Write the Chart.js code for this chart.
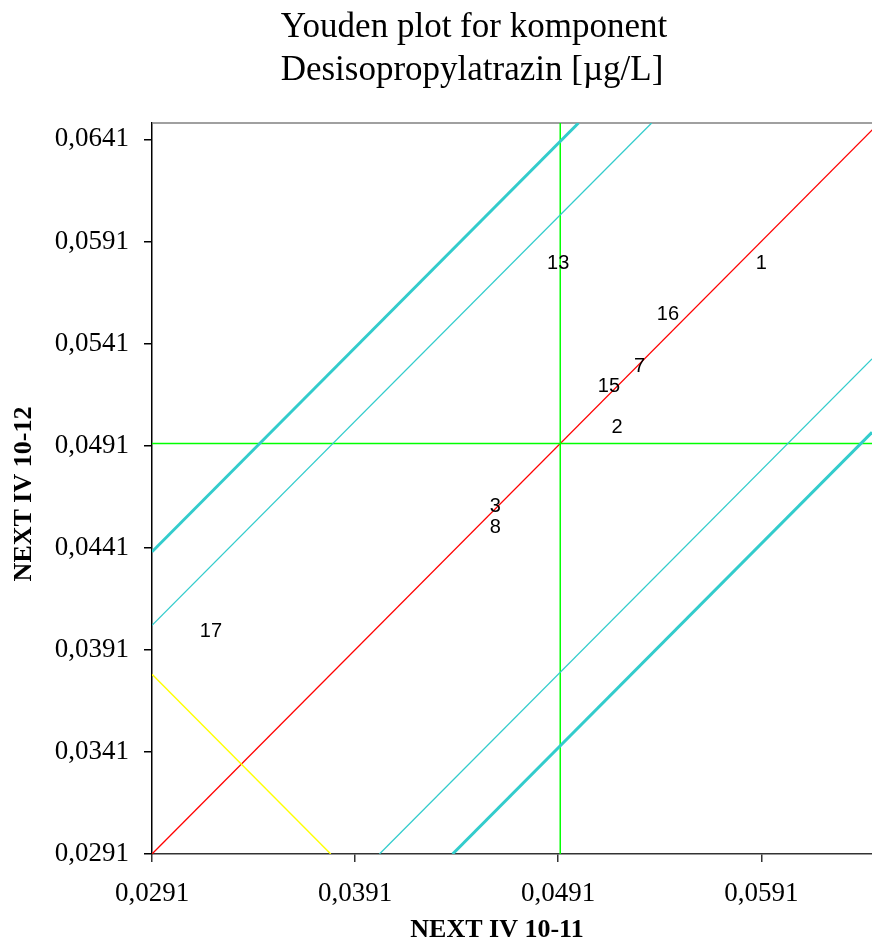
<!DOCTYPE html>
<html>
<head>
<meta charset="utf-8">
<title>Youden plot</title>
<script src="https://cdn.jsdelivr.net/npm/chart.js@4/dist/chart.umd.min.js"></script>
<style>
    html, body { margin: 0; padding: 0; background: #fff; }
    .chart-box { width: 872px; height: 946px; position: relative; }
</style>
</head>
<body>
<div class="chart-box">
    <canvas id="youdenChart"></canvas>
</div>
<script>
// Lab results, sample A (NEXT IV 10-11) against sample B (NEXT IV 10-12)
const labIds = ['1', '13', '16', '7', '15', '2', '3', '8', '17'];
const sampleA = [0.0591, 0.0491, 0.0545, 0.0531, 0.0516, 0.0520, 0.0460, 0.0460, 0.0320];
const sampleB = [0.0580, 0.0580, 0.0555, 0.0530, 0.0520, 0.0500, 0.0461, 0.0451, 0.0400];

// Axis ticks
const xTicks = [0.0291, 0.0391, 0.0491, 0.0591];
const yTicks = [0.0291, 0.0341, 0.0391, 0.0441, 0.0491, 0.0541, 0.0591, 0.0641];

// Medians and acceptance limits (distance from the 45 degree line)
const medianA = 0.0492;
const medianB = 0.0492;
const innerLimit = 0.0112;
const outerLimit = 0.0148;
const sumLimit = 0.0670;

const xMin = 0.0291, xMax = 0.06455;
const yMin = 0.0291, yMax = 0.0649;

const serif = "'Liberation Serif', 'Times New Roman', serif";
const sans = "'Liberation Sans', Arial, sans-serif";

function lineSet(points, color, width) {
    return {
        data: points,
        showLine: true,
        borderColor: color,
        borderWidth: width,
        pointRadius: 0,
        fill: false
    };
}

// y = x + offset, cut at the plot edges
function offsetLine(offset) {
    if (offset >= 0) {
        return [{ x: xMin, y: xMin + offset }, { x: yMax - offset, y: yMax }];
    }
    return [{ x: yMin - offset, y: yMin }, { x: xMax, y: xMax + offset }];
}

const labPoints = sampleA.map((a, i) => ({ x: a, y: sampleB[i] }));

// Plot title and axis titles
const headerText = {
    id: 'headerText',
    afterDraw(chart) {
        const c = chart.ctx;
        c.save();
        c.fillStyle = '#000';
        c.font = '35px ' + serif;
        c.textAlign = 'center';
        c.textBaseline = 'alphabetic';
        c.fillText('Youden plot for komponent', 474, 37);
        c.fillText('Desisopropylatrazin [\u00b5g/L]', 472, 80);

        c.font = 'bold 26px ' + serif;
        c.textBaseline = 'middle';
        c.fillText('NEXT IV 10-11', 497, 930);
        c.translate(24, 494);
        c.rotate(-Math.PI / 2);
        c.fillText('NEXT IV 10-12', 0, 0);
        c.restore();
    }
};

// Gray frame line along the top of the plot
const topFrame = {
    id: 'topFrame',
    beforeDatasetsDraw(chart) {
        const { ctx, chartArea } = chart;
        ctx.save();
        ctx.strokeStyle = '#808080';
        ctx.lineWidth = 1.5;
        ctx.beginPath();
        ctx.moveTo(chartArea.left, chartArea.top);
        ctx.lineTo(chartArea.right, chartArea.top);
        ctx.stroke();
        ctx.restore();
    }
};

// Lab numbers written at each result
const labLabels = {
    id: 'labLabels',
    afterDatasetsDraw(chart) {
        const meta = chart.getDatasetMeta(chart.data.datasets.length - 1);
        const c = chart.ctx;
        c.save();
        c.fillStyle = '#000';
        c.font = '20px ' + sans;
        c.textAlign = 'center';
        c.textBaseline = 'middle';
        meta.data.forEach((pt, i) => {
            c.fillText(labIds[i], pt.x, pt.y);
        });
        c.restore();
    }
};

const ctx = document.getElementById('youdenChart').getContext('2d');

new Chart(ctx, {
    type: 'scatter',
    data: {
        datasets: [
            lineSet(offsetLine(outerLimit), '#33CCCC', 3),
            lineSet(offsetLine(innerLimit), '#33CCCC', 1.3),
            lineSet(offsetLine(-innerLimit), '#33CCCC', 1.3),
            lineSet(offsetLine(-outerLimit), '#33CCCC', 3),
            lineSet([{ x: xMin, y: sumLimit - xMin }, { x: sumLimit - yMin, y: yMin }], '#FFFF00', 1.4),
            lineSet([{ x: medianA, y: yMin }, { x: medianA, y: yMax }], '#00FF00', 1.5),
            lineSet([{ x: xMin, y: medianB }, { x: xMax, y: medianB }], '#00FF00', 1.5),
            lineSet([{ x: xMin, y: yMin }, { x: yMax, y: yMax }], '#FF0000', 1.3),
            {
                data: labPoints,
                pointRadius: 0,
                showLine: false
            }
        ]
    },
    options: {
        responsive: true,
        maintainAspectRatio: false,
        animation: false,
        layout: {
            padding: { top: 123, right: 0, bottom: 0, left: 0 }
        },
        plugins: {
            legend: { display: false },
            tooltip: { enabled: false },
            title: { display: false }
        },
        scales: {
            x: {
                type: 'linear',
                min: xMin,
                max: xMax,
                afterBuildTicks: scale => { scale.ticks = xTicks.map(v => ({ value: v })); },
                afterFit: scale => { scale.height = 92; },
                grid: {
                    drawOnChartArea: false,
                    drawTicks: true,
                    tickLength: 8,
                    color: '#333333',
                    lineWidth: 1.5
                },
                border: { color: '#333333', width: 1.5 },
                ticks: {
                    color: '#000',
                    padding: 16,
                    maxRotation: 0,
                    font: { family: serif, size: 27 },
                    callback: v => v.toFixed(4).replace('.', ',')
                }
            },
            y: {
                type: 'linear',
                min: yMin,
                max: yMax,
                afterBuildTicks: scale => { scale.ticks = yTicks.map(v => ({ value: v })); },
                afterFit: scale => { scale.width = 152; },
                grid: {
                    drawOnChartArea: false,
                    drawTicks: true,
                    tickLength: 8,
                    color: '#000',
                    lineWidth: 1.5
                },
                border: { color: '#000', width: 1.5 },
                ticks: {
                    color: '#000',
                    padding: 15,
                    font: { family: serif, size: 27 },
                    callback: v => v.toFixed(4).replace('.', ',')
                }
            }
        }
    },
    plugins: [topFrame, labLabels, headerText]
});
</script>
</body>
</html>
